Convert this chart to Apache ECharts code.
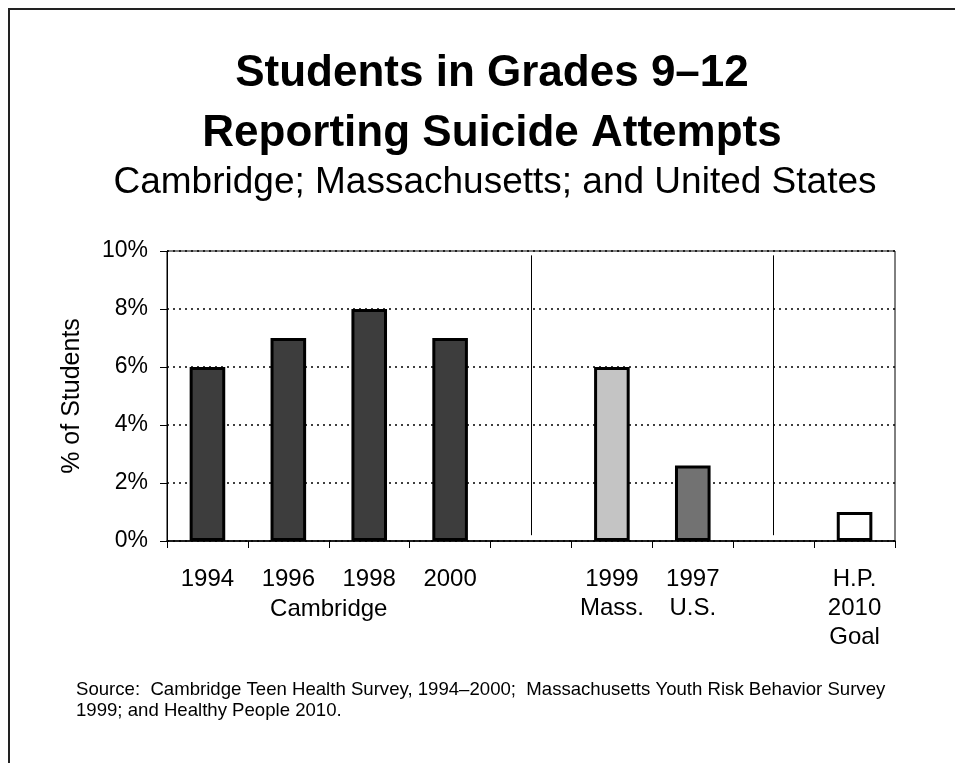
<!DOCTYPE html>
<html>
<head>
<meta charset="utf-8">
<script src="https://cdn.jsdelivr.net/npm/echarts@6/dist/echarts.min.js"></script>
<style>
  html, body { margin: 0; padding: 0; background: #fff; }
  #main { width: 955px; height: 763px; }
</style>
</head>
<body>
<div id="main"></div>
<script>
// categories (gaps are blank slots between groups)
const categories = ['1994', '1996', '1998', '2000', 'gap1', 'Mass', 'US', 'gap2', 'HP'];
const catLabels = ['1994', '1996', '1998', '2000', '', '1999\nMass.', '1997\nU.S.', '', 'H.P.\n2010\nGoal'];
const values = [6, 7, 8, 7, null, 6, 2.6, null, 1];
const barFills = ['#3d3d3d', '#3d3d3d', '#3d3d3d', '#3d3d3d', null, '#c4c4c4', '#727272', null, '#ffffff'];
const yTicks = [0, 2, 4, 6, 8, 10];

const FONT = '"Liberation Sans", Arial, sans-serif';

const chart = echarts.init(document.getElementById('main'));

const option = {
  backgroundColor: '#fff',
  animation: false,
  title: [
    {
      text: 'Students in Grades 9\u201312\nReporting Suicide Attempts',
      left: 487,
      textAlign: 'center',
      top: 39,
      textStyle: { fontFamily: FONT, fontSize: 44, fontWeight: 'bold', color: '#000', lineHeight: 60 }
    },
    {
      text: 'Cambridge; Massachusetts; and United States',
      left: 490,
      textAlign: 'center',
      top: 159,
      textStyle: { fontFamily: FONT, fontSize: 37, fontWeight: 'normal', color: '#000' }
    }
  ],
  grid: {
    left: 167, right: 60, top: 251, bottom: 222,
    show: true, borderColor: '#000', borderWidth: 1
  },
  xAxis: {
    type: 'category',
    data: categories,
    axisLine: { lineStyle: { color: '#000', width: 1.5 } },
    axisTick: { show: true, length: 7, lineStyle: { color: '#000' } },
    axisLabel: {
      interval: 0,
      margin: 24,
      fontFamily: FONT,
      fontSize: 24,
      color: '#000',
      lineHeight: 29,
      formatter: function (v, i) { return catLabels[i]; }
    }
  },
  yAxis: {
    type: 'value',
    min: yTicks[0],
    max: yTicks[yTicks.length - 1],
    interval: 2,
    name: '% of Students',
    nameLocation: 'middle',
    nameGap: 82,
    nameRotate: 90,
    nameTextStyle: { fontFamily: FONT, fontSize: 25, color: '#000' },
    axisLine: { show: true, lineStyle: { color: '#000', width: 1 } },
    axisTick: { show: true, length: 7, lineStyle: { color: '#000' } },
    axisLabel: {
      fontFamily: FONT, fontSize: 23, color: '#000', margin: 19,
      formatter: '{value}%'
    },
    splitLine: { show: true, lineStyle: { color: '#000', type: [2, 4], width: 1.5 } }
  },
  series: [
    {
      type: 'bar',
      barWidth: '44%',
      data: values.map(function (v, i) {
        return {
          value: v,
          itemStyle: { color: barFills[i], borderColor: '#000', borderWidth: 3 }
        };
      }),
      markLine: {
        silent: true,
        symbol: 'none',
        label: { show: false },
        lineStyle: { color: '#000', type: 'solid', width: 1 },
        data: [
          [{ coord: ['gap1', 0.2] }, { coord: ['gap1', 9.85] }],
          [{ coord: ['gap2', 0.2] }, { coord: ['gap2', 9.85] }]
        ]
      }
    }
  ],
  graphic: [
    { type: 'line', shape: { x1: 8, y1: 9, x2: 955, y2: 9 }, style: { stroke: '#222', lineWidth: 2 } },
    { type: 'line', shape: { x1: 9, y1: 8, x2: 9, y2: 763 }, style: { stroke: '#222', lineWidth: 2 } },
    {
      type: 'text', left: 76, top: 679,
      style: {
        text: 'Source:  Cambridge Teen Health Survey, 1994\u20132000;  Massachusetts Youth Risk Behavior Survey\n1999; and Healthy People 2010.',
        font: '18.6px ' + FONT, fill: '#000', lineHeight: 21
      }
    }
  ]
};

chart.setOption(option);

// "Cambridge" group label centred under 1996/1998
const p1 = chart.convertToPixel({ xAxisIndex: 0 }, '1996');
const p2 = chart.convertToPixel({ xAxisIndex: 0 }, '1998');
const g = option.graphic.slice();
g.push({
  type: 'text',
  x: (p1 + p2) / 2,
  y: 597,
  style: { text: 'Cambridge', font: '24px ' + FONT, fill: '#000', align: 'center' }
});
chart.setOption({ graphic: g });
</script>
</body>
</html>
